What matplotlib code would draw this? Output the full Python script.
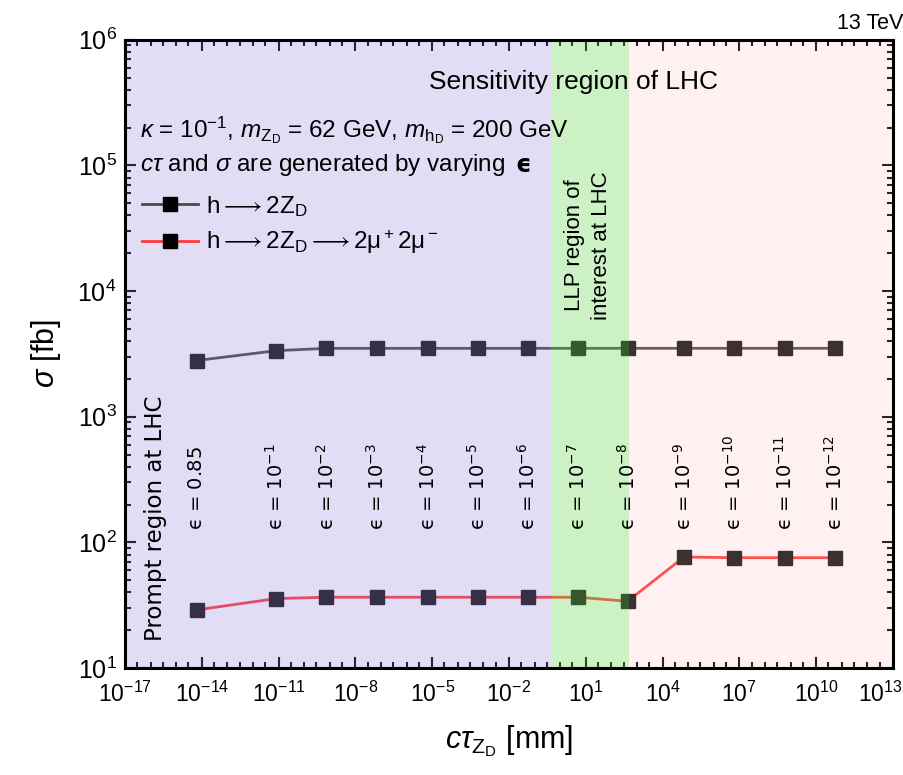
import matplotlib
matplotlib.use("Agg")
import matplotlib.pyplot as plt
import matplotlib.transforms as mtransforms
from matplotlib.lines import Line2D
from matplotlib.ticker import LogLocator, FixedLocator, NullFormatter, LogFormatterSciNotation

# data (ctau in mm, sigma in fb)
ctau = [6.3e-15, 7.9e-12, 7.4e-10, 6.9e-8, 6.6e-6, 6.2e-4, 5.5e-2, 5.0,
        4.3e2, 6.9e4, 6.2e6, 6.0e8, 5.4e10]
sigma_2zd = [2800, 3350, 3500, 3500, 3500, 3500, 3500, 3500, 3500,
             3500, 3500, 3500, 3500]
sigma_4mu = [29.0, 35.7, 36.6, 36.6, 36.6, 36.6, 36.6, 36.6, 34.0,
             76.5, 75.5, 75.5, 75.5]
eps_labels = ["0.85", "10^{-1}", "10^{-2}", "10^{-3}", "10^{-4}", "10^{-5}",
              "10^{-6}", "10^{-7}", "10^{-8}", "10^{-9}", "10^{-10}",
              "10^{-11}", "10^{-12}"]
xticks = [1e-17, 1e-14, 1e-11, 1e-8, 1e-5, 1e-2, 1e1, 1e4, 1e7, 1e10, 1e13]

# shaded regions: prompt / LLP / far
region_edges = [1e-17, 0.44, 490, 1e13]
region_colors = [(0.60, 0.50, 0.86), (0.45, 0.85, 0.36), (1.0, 0.72, 0.72)]
region_alpha = [0.27, 0.36, 0.19]

plt.rcParams["font.family"] = ["Liberation Sans", "DejaVu Sans"]
plt.rcParams["mathtext.fontset"] = "custom"
plt.rcParams["mathtext.rm"] = "Liberation Sans"
plt.rcParams["mathtext.it"] = "Liberation Sans:italic"
plt.rcParams["mathtext.bf"] = "Liberation Sans:bold"
plt.rcParams["axes.unicode_minus"] = False

fig = plt.figure(figsize=(9.04, 7.75), dpi=100)
ax = fig.add_axes([0.1383, 0.138, 0.8495, 0.8108])

ax.plot(ctau, sigma_2zd, color="#4a4a4a", lw=2, marker="s", ms=9.5,
        mfc="#111111", mec="#111111", zorder=2)
ax.plot(ctau, sigma_4mu, color="#ff3a3a", lw=2, marker="s", ms=9.5,
        mfc="#111111", mec="#111111", zorder=2)

for i in range(3):
    ax.axvspan(region_edges[i], region_edges[i + 1], color=region_colors[i],
               alpha=region_alpha[i], lw=0, zorder=3)

ax.set_xscale("log")
ax.set_yscale("log")
ax.set_xlim(1e-17, 1e13)
ax.set_ylim(10, 1e6)

ax.xaxis.set_major_locator(FixedLocator(xticks))
ax.xaxis.set_minor_locator(LogLocator(base=10.0, subs=(1.0, 3.0), numticks=100))
ax.xaxis.set_minor_formatter(NullFormatter())
ax.xaxis.set_major_formatter(LogFormatterSciNotation(base=10))
ax.yaxis.set_major_locator(LogLocator(base=10.0, numticks=20))
ax.yaxis.set_minor_locator(LogLocator(base=10.0, subs=range(2, 10), numticks=100))
ax.yaxis.set_minor_formatter(NullFormatter())

ax.tick_params(which="both", direction="in", top=True, right=True, width=1.5)
ax.tick_params(which="major", length=8)
ax.tick_params(axis="x", which="major", pad=10, labelsize=16.5)
ax.tick_params(axis="y", which="major", pad=6, labelsize=18)
ax.tick_params(which="minor", length=4)
for s in ax.spines.values():
    s.set_linewidth(2.2)
    s.set_zorder(6)

ax.set_xlabel(r"$c\tau_{\mathrm{Z_D}}$ [mm]", fontsize=22, labelpad=12)
ax.set_ylabel(r"$\sigma$ [fb]", fontsize=22, labelpad=10)

for x, lab in zip(ctau, eps_labels):
    ax.text(x, 125, "ϵ = $" + lab + "$", rotation=90, ha="center",
            va="bottom", fontsize=14, zorder=5,
            math_fontfamily="dejavusans", family="DejaVu Sans")

ax.text(1.5e-16, 16.5, "Prompt region at LHC", rotation=90, ha="center",
        va="bottom", fontsize=16.5, family="DejaVu Sans", zorder=5)
ax.text(12.3, 5900, "LLP region of\ninterest at LHC", rotation=90,
        ha="center", va="bottom", fontsize=16, linespacing=1.4, zorder=5)
ax.text(3.2, 4.6e5, "Sensitivity region of LHC", ha="center", va="center",
        fontsize=19, zorder=5)

ax.text(0.02, 0.856, r"$\kappa$ = 10$^{-1}$, $m_{\mathrm{Z_D}}$ = 62 GeV, "
        r"$m_{\mathrm{h_D}}$ = 200 GeV", transform=ax.transAxes,
        fontsize=17.5, va="center", zorder=5)
t2 = ax.text(0.02, 0.801, r"$c\tau$ and $\sigma$ are generated by varying",
             transform=ax.transAxes, fontsize=17.5, va="center", zorder=5)
ax.annotate("ϵ", xy=(1.0, 0.5), xycoords=t2, xytext=(7, 0),
            textcoords="offset points", va="center", ha="left",
            fontsize=17.5, family="DejaVu Sans", fontweight="bold", zorder=5)

handles = [
    Line2D([], [], color="#4a4a4a", lw=2, marker="s", ms=9.5,
           mfc="black", mec="black"),
    Line2D([], [], color="#ff3a3a", lw=2, marker="s", ms=9.5,
           mfc="black", mec="black"),
]
leg = ax.legend(handles, [r"h$\longrightarrow$2Z$_\mathrm{D}$",
                          r"h$\longrightarrow$2Z$_\mathrm{D}$$\longrightarrow$2$\mathrm{\mu}^+$2$\mathrm{\mu}^-$"],
                loc="upper left", bbox_to_anchor=(0.0, 0.782), frameon=False,
                fontsize=17.5, handlelength=2.3, handletextpad=0.35,
                labelspacing=0.4, borderaxespad=0.3)
leg.set_zorder(5)

fig.text(0.999, 0.97, "13 TeV", ha="right", va="center", fontsize=15.5)

# keep the last x tick label inside the figure
fig.canvas.draw()
last = ax.get_xticklabels()[-1]
last.set_horizontalalignment("right")
last.set_transform(last.get_transform() +
                   mtransforms.ScaledTranslation(10 / 100, 0, fig.dpi_scale_trans))

fig.savefig("out.png", dpi=100)
